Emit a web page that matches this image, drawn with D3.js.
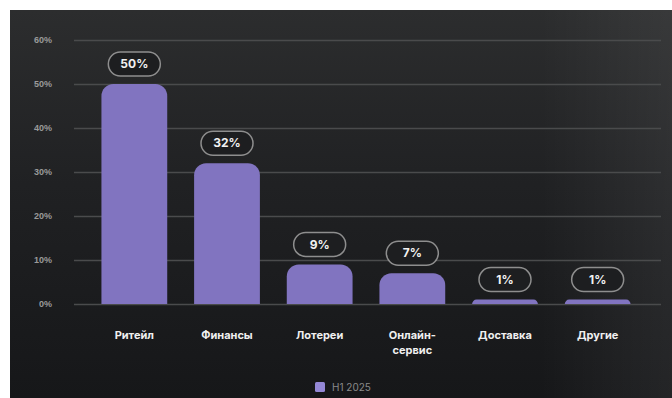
<!DOCTYPE html>
<html>
<head>
<meta charset="utf-8">
<script src="https://cdn.jsdelivr.net/npm/d3@7"></script>
<style>
  body { margin: 0; background: #fff; }
  svg { display: block; font-family: "Inter", "Noto Sans", sans-serif; }
</style>
</head>
<body>
<div id="chart"></div>
<script>
// данные графика
const categories = ["Ритейл", "Финансы", "Лотереи", "Онлайн-сервис", "Доставка", "Другие"];
const values = [50, 32, 9, 7, 1, 1];
const yTicks = [0, 10, 20, 30, 40, 50, 60];
const seriesName = "H1 2025";

const width = 672;
const height = 398;
const barColor = "#8174c0";

const svg = d3.select("#chart").append("svg").attr("width", width).attr("height", height);

// фон с градиентом
const defs = svg.append("defs");
const grad = defs.append("linearGradient").attr("id", "bg").attr("x1", 0).attr("y1", 0).attr("x2", 0).attr("y2", 1);
grad.append("stop").attr("offset", "0%").attr("stop-color", "#2c2d2e");
grad.append("stop").attr("offset", "45%").attr("stop-color", "#202123");
grad.append("stop").attr("offset", "100%").attr("stop-color", "#161719");
const gradH = defs.append("linearGradient").attr("id", "bgh").attr("x1", 0).attr("y1", 0).attr("x2", 1).attr("y2", 0);
gradH.append("stop").attr("offset", "0%").attr("stop-color", "#000").attr("stop-opacity", 0);
gradH.append("stop").attr("offset", "80%").attr("stop-color", "#fff").attr("stop-opacity", 0.0);
gradH.append("stop").attr("offset", "100%").attr("stop-color", "#fff").attr("stop-opacity", 0.06);

svg.append("rect").attr("x", 10).attr("y", 10).attr("width", width - 10).attr("height", height - 10).attr("fill", "url(#bg)");
svg.append("rect").attr("x", 10).attr("y", 10).attr("width", width - 10).attr("height", height - 10).attr("fill", "url(#bgh)");

const y = d3.scaleLinear().domain([0, 60]).range([304, 40]);
const x = d3.scaleBand().domain(categories).range([88, 644]).paddingInner(0.29).paddingOuter(0.145);

// ось Y + сетка
const yAxis = svg.append("g")
  .attr("transform", "translate(74,0)")
  .call(d3.axisLeft(y).tickValues(yTicks).tickSize(-587).tickPadding(22).tickFormat(d => d + "%"));
yAxis.select(".domain").remove();
yAxis.selectAll(".tick line").attr("stroke", "#4a4b4c").attr("stroke-width", 1.5);
yAxis.selectAll(".tick text")
  .attr("fill", "#9a9a9a")
  .attr("font-size", 9)
  .attr("font-weight", 700);

// столбцы со скруглённым верхом
const barPath = (d, i) => {
  const x0 = x(categories[i]);
  const w = x.bandwidth();
  const top = y(d);
  const bottom = y(0);
  const r = Math.min(12, bottom - top);
  return `M${x0},${bottom} V${top + r} A${r},${r} 0 0 1 ${x0 + r},${top} H${x0 + w - r} A${r},${r} 0 0 1 ${x0 + w},${top + r} V${bottom} Z`;
};
svg.append("g").selectAll("path")
  .data(values)
  .join("path")
  .attr("d", barPath)
  .attr("fill", barColor);

// подписи-"пилюли"
const pills = svg.append("g").selectAll("g")
  .data(values)
  .join("g")
  .attr("transform", (d, i) => `translate(${x(categories[i]) + x.bandwidth() / 2},${y(d) - 20})`);
pills.append("rect")
  .attr("x", -26).attr("y", -12).attr("width", 52).attr("height", 24).attr("rx", 12)
  .attr("fill", "#1d1e20")
  .attr("stroke", "#8e8e8e")
  .attr("stroke-width", 1.5);
pills.append("text")
  .attr("text-anchor", "middle")
  .attr("dy", "0.35em")
  .attr("fill", "#f2f2f2")
  .attr("font-size", 12)
  .attr("font-weight", 700)
  .text(d => d + "%");

// подписи категорий
const xLabels = svg.append("g").selectAll("text")
  .data(categories)
  .join("text")
  .attr("x", d => x(d) + x.bandwidth() / 2)
  .attr("y", 339)
  .attr("text-anchor", "middle")
  .attr("fill", "#f0f0f0")
  .attr("font-size", 11)
  .attr("font-weight", 700);
xLabels.each(function (d) {
  const parts = d.includes("-") ? [d.split("-")[0] + "-", d.split("-")[1]] : [d];
  const t = d3.select(this);
  parts.forEach((p, j) => {
    t.append("tspan").attr("x", t.attr("x")).attr("dy", j === 0 ? 0 : 15).text(p);
  });
});

// легенда
const legend = svg.append("g").attr("transform", "translate(315,382)");
legend.append("rect").attr("width", 10).attr("height", 10).attr("rx", 1.5).attr("fill", "#9488d6");
legend.append("text")
  .attr("x", 17).attr("y", 5).attr("dy", "0.35em")
  .attr("fill", "#8a8a8a")
  .attr("font-size", 10)
  .text(seriesName);
</script>
</body>
</html>
